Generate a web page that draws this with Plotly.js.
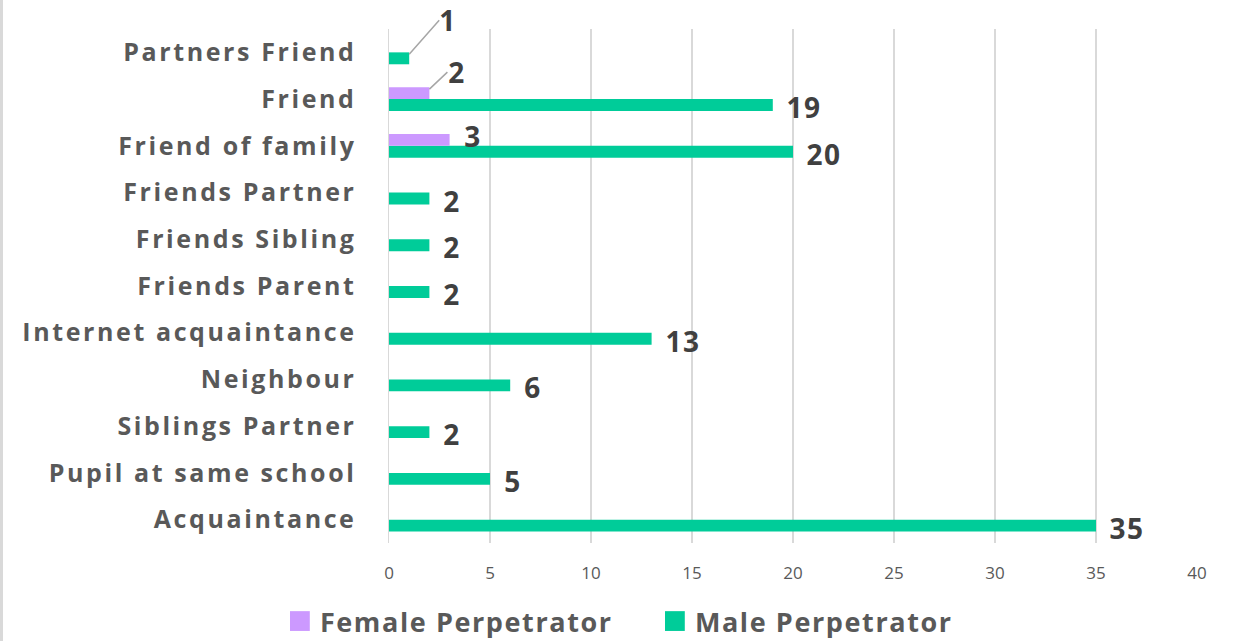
<!DOCTYPE html>
<html>
<head>
<meta charset="utf-8">
<script src="https://cdn.plot.ly/plotly-3.0.1.min.js"></script>
<style>
html,body{margin:0;padding:0;background:#fff;}
#wrap{position:relative;width:1233px;height:641px;}
#chart{width:1233px;height:641px;}
#edge{position:absolute;left:0;top:0;width:3px;height:641px;background:#d9d9d9;pointer-events:none;}
#chart .yaxislayer-above .ytick text{letter-spacing:2.6px;}
#chart .annotation-text{letter-spacing:1.5px;}
#chart .legendtext{letter-spacing:1.6px;}
</style>
</head>
<body>
<div id="wrap"><div id="chart"></div><div id="edge"></div></div>
<script>
const categories = ["Acquaintance","Pupil at same school","Siblings Partner","Neighbour","Internet acquaintance","Friends Parent","Friends Sibling","Friends Partner","Friend of family","Friend","Partners Friend"];
const femaleValues = [null,null,null,null,null,null,null,null,3,2,null];
const maleValues = [35,5,2,6,13,2,2,2,20,19,1];
const seriesNames = ["Female Perpetrator","Male Perpetrator"];
const xTicks = [0,5,10,15,20,25,30,35,40];

const femaleColor = "#CC99FF";
const maleColor = "#00CC99";
const labelFont = {family:"Open Sans, sans-serif", size:28, color:"#404040", weight:700};

// male first so that, in each horizontal group, the female bar sits above the male bar
const traces = [
  {type:"bar", orientation:"h", name:seriesNames[1], y:categories, x:maleValues,
   marker:{color:maleColor}, hoverinfo:"x+y"},
  {type:"bar", orientation:"h", name:seriesNames[0], y:categories, x:femaleValues,
   marker:{color:femaleColor}, hoverinfo:"x+y"}
];

const annotations = [];
categories.forEach((c,i)=>{
  const v = maleValues[i];
  if (v == null) return;
  if (c === "Partners Friend") {
    annotations.push({x:v, y:c, xref:"x", yref:"y", text:"<b>"+v+"</b>", showarrow:true,
      arrowhead:0, arrowwidth:1.5, arrowcolor:"#a6a6a6", ax:30, ay:-34, yshift:-2,
      xanchor:"left", font:labelFont, standoff:0, borderpad:0});
  } else {
    annotations.push({x:v, y:c, xref:"x", yref:"y", text:"<b>"+v+"</b>", showarrow:false,
      xanchor:"left", xshift:13, yshift:-8, font:labelFont});
  }
});
categories.forEach((c,i)=>{
  const v = femaleValues[i];
  if (v == null) return;
  if (c === "Friend") {
    annotations.push({x:v, y:c, xref:"x", yref:"y", text:"<b>"+v+"</b>", showarrow:true,
      arrowhead:0, arrowwidth:1.5, arrowcolor:"#a6a6a6", ax:18, ay:-17, yshift:10,
      xanchor:"left", font:labelFont, standoff:0});
  } else {
    annotations.push({x:v, y:c, xref:"x", yref:"y", text:"<b>"+v+"</b>", showarrow:false,
      xanchor:"left", xshift:13, yshift:10, font:labelFont});
  }
});

const layout = {
  width:1233, height:641,
  margin:{l:389, r:36, t:29, b:98, pad:0},
  paper_bgcolor:"#ffffff", plot_bgcolor:"#ffffff",
  barmode:"group", bargap:0.49, bargroupgap:0,
  showlegend:true,
  legend:{orientation:"h", xref:"container", yref:"container", x:0.227, y:0.0, xanchor:"left", yanchor:"bottom",
    traceorder:"reversed", font:{family:"Open Sans, sans-serif", size:27, color:"#595959", weight:700},
    itemwidth:30, entrywidthmode:"pixels", entrywidth:330},
  xaxis:{range:[0,40], tickvals:xTicks, ticktext:xTicks.map(String), showgrid:true, gridcolor:"#d9d9d9", gridwidth:1.5,
    zeroline:false, showline:false, ticks:"", ticklabelstandoff:18,
    tickfont:{family:"Open Sans, sans-serif", size:17, color:"#595959"}, fixedrange:true},
  yaxis:{type:"category", categoryorder:"array", categoryarray:categories, range:[-0.5,10.5],
    showgrid:false, zeroline:false, showline:true, linecolor:"#d9d9d9", linewidth:1.5, ticks:"",
    ticklabelstandoff:26,
    tickfont:{family:"Open Sans, sans-serif", size:25, color:"#595959", weight:700}, fixedrange:true},
  annotations:annotations,
  font:{family:"Open Sans, sans-serif"}
};

Plotly.newPlot("chart", traces, layout, {displayModeBar:false, staticPlot:true}).then(()=>{
  document.querySelectorAll("#chart .legend .legendpoints path").forEach(p=>{
    const t = p.getAttribute("transform") || "";
    p.setAttribute("transform", t + " scale(1.65)");
  });
  // nudge the legend a few pixels lower, as in the reference
  const lg = document.querySelector("#chart .legend");
  if (lg) {
    const t = lg.getAttribute("transform") || "";
    lg.setAttribute("transform", t + " translate(0,5)");
  }
});
</script>
</body>
</html>
